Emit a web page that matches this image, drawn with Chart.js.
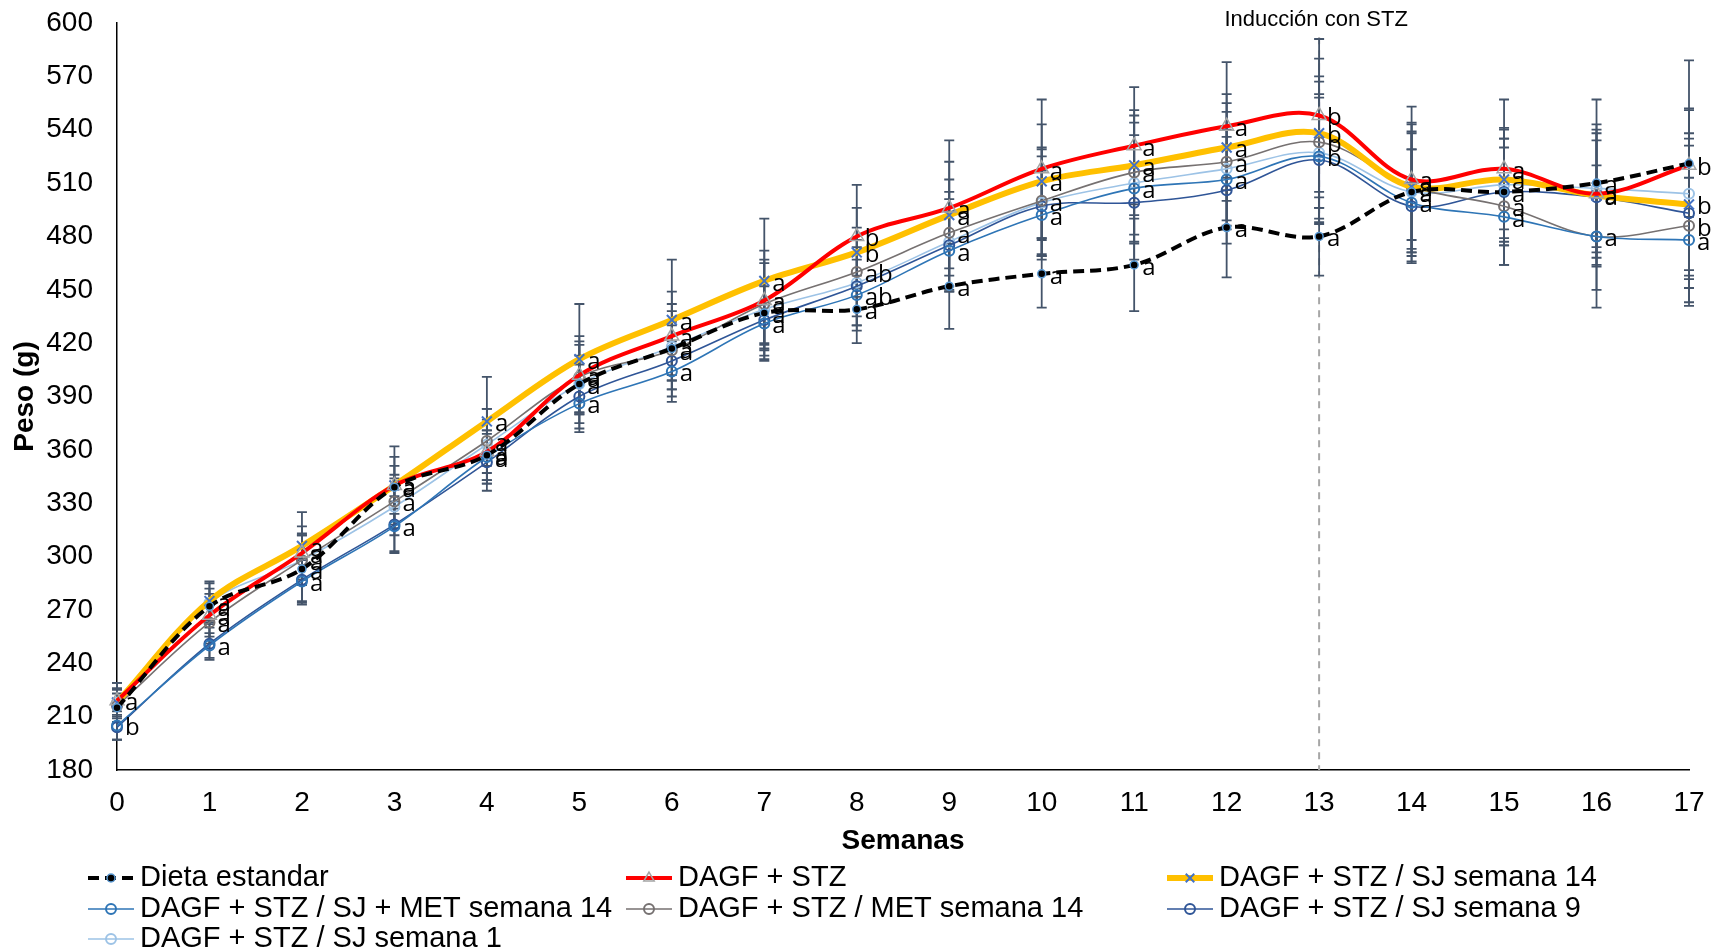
<!DOCTYPE html>
<html>
<head>
<meta charset="utf-8">
<script src="https://cdn.jsdelivr.net/npm/chart.js@4.4.1/dist/chart.umd.min.js"></script>
<style>
  html, body { margin: 0; padding: 0; background: #fff; }
</style>
</head>
<body>
<canvas id="peso-chart" width="1717" height="952"></canvas>
<script>
////// Datos (peso en g por semana)
let semanas = ['0','1','2','3','4','5','6','7','8','9','10','11','12','13','14','15','16','17'];
let semanaInduccion = 13;

let dieta   = [215, 272, 293, 339, 357, 397, 417, 437, 439, 452, 459, 464, 485, 480, 505, 505, 510, 521];
let stz     = [219, 267, 302, 340, 359, 402, 424, 444, 480, 496, 518, 531, 542, 548, 512, 518, 504, 520];
let sj14    = [218, 275, 306, 340, 376, 411, 433, 455, 471, 492, 511, 520, 530, 538, 508, 512, 503, 498];
let sjMet14 = [205, 250, 286, 317, 356, 386, 404, 431, 447, 472, 492, 507, 512, 525, 499, 491, 480, 478];
let met14   = [216, 263, 298, 331, 365, 401, 416, 442, 460, 482, 500, 516, 522, 533, 508, 497, 480, 486];
let sj9     = [204, 251, 287, 318, 353, 390, 410, 433, 452, 475, 497, 499, 506, 523, 497, 505, 502, 493];
let sj1     = [218, 274, 298, 328, 363, 397, 418, 439, 454, 477, 499, 510, 518, 527, 505, 509, 507, 504];

// desviaciones (barras de error)
let deDieta   = [8, 10, 20, 12, 14, 16, 15, 18, 19, 24, 19, 26, 28, 22, 39, 30, 47, 30];
let deStz     = [10, 12, 15, 16, 18, 22, 25, 28, 29, 38, 39, 33, 36, 43, 41, 39, 30, 59];
let deSj14    = [11, 11, 19, 22, 25, 31, 34, 35, 25, 30, 32, 28, 30, 42, 30, 28, 35, 40];
let deSjMet14 = [8, 7, 12, 14, 15, 16, 17, 21, 20, 22, 25, 30, 28, 35, 30, 27, 30, 35];
let deMet14   = [9, 12, 14, 15, 18, 20, 22, 25, 25, 30, 30, 35, 33, 37, 35, 33, 40, 45];
let deSj9     = [7, 9, 12, 16, 16, 18, 20, 22, 22, 26, 28, 32, 30, 35, 32, 30, 38, 42];
let deSj1     = [8, 11, 14, 16, 20, 22, 24, 26, 24, 28, 30, 34, 32, 40, 34, 32, 36, 48];

// letras de significancia
let letrasDieta   = ['', 'a','a','a','a','a','a','a','a','a','a','a','a','a','a','a','a',''];
let letrasStz     = ['a','a','a','a','a','a','a','a','b','a','a','a','a','b','a','a','a','b'];
let letrasSj14    = ['', 'a','a','a','a','a','a','a','b','a','a','a','a','b','a','a','a','b'];
let letrasSjMet14 = ['b','a','a','a','a','a','a','a','ab','a','a','a','a','b','a','a','','a'];
let letrasMet14   = ['', 'a','a','a','a','a','a','a','ab','a','a','a','a','b','a','a','a','b'];

const fuente = '"Liberation Sans", Arial, sans-serif';
Chart.defaults.color = '#000';
Chart.defaults.font.family = fuente;

let datasets = [
    { label: 'Dieta estandar', data: dieta, errores: deDieta, letras: letrasDieta,
      borderColor: '#000000', borderWidth: 4, borderDash: [11, 6],
      pointStyle: 'circle', pointRadius: 4, pointBackgroundColor: '#000000',
      pointBorderColor: '#5B9BD5', pointBorderWidth: 1.5 },
    { label: 'DAGF + STZ', data: stz, errores: deStz, letras: letrasStz,
      borderColor: '#FF0000', borderWidth: 4,
      pointStyle: 'triangle', pointRadius: 8, pointBackgroundColor: 'rgba(255,255,255,0)',
      pointBorderColor: '#A5A5A5', pointBorderWidth: 1.5 },
    { label: 'DAGF + STZ / SJ semana 14', data: sj14, errores: deSj14, letras: letrasSj14,
      borderColor: '#FFC000', borderWidth: 6,
      pointStyle: 'crossRot', pointRadius: 7, pointBorderColor: '#4472C4', pointBorderWidth: 2 },
    { label: 'DAGF + STZ / SJ + MET semana 14', data: sjMet14, errores: deSjMet14, letras: letrasSjMet14,
      borderColor: '#2E75B6', borderWidth: 1.6,
      pointStyle: 'circle', pointRadius: 5, pointBackgroundColor: 'rgba(255,255,255,0)',
      pointBorderColor: '#2E75B6', pointBorderWidth: 2 },
    { label: 'DAGF + STZ / MET semana 14', data: met14, errores: deMet14, letras: letrasMet14,
      borderColor: '#767171', borderWidth: 1.6,
      pointStyle: 'circle', pointRadius: 5, pointBackgroundColor: 'rgba(255,255,255,0)',
      pointBorderColor: '#767171', pointBorderWidth: 2 },
    { label: 'DAGF + STZ / SJ semana 9', data: sj9, errores: deSj9, letras: [],
      borderColor: '#2F5597', borderWidth: 1.6,
      pointStyle: 'circle', pointRadius: 5, pointBackgroundColor: 'rgba(255,255,255,0)',
      pointBorderColor: '#2F5597', pointBorderWidth: 2 },
    { label: 'DAGF + STZ / SJ semana 1', data: sj1, errores: deSj1, letras: [],
      borderColor: '#9DC3E6', borderWidth: 1.6,
      pointStyle: 'circle', pointRadius: 5, pointBackgroundColor: 'rgba(255,255,255,0)',
      pointBorderColor: '#9DC3E6', pointBorderWidth: 2 }
];

// barras de error + linea de induccion
const errorBars = {
    id: 'errorBars',
    beforeDatasetsDraw(chart) {
        let ctx = chart.ctx, xs = chart.scales.x, ys = chart.scales.y;
        ctx.save();
        let xi = xs.getPixelForValue(semanaInduccion);
        ctx.strokeStyle = '#A6A6A6';
        ctx.lineWidth = 2;
        ctx.setLineDash([7, 6]);
        ctx.beginPath();
        ctx.moveTo(xi, ys.getPixelForValue(592));
        ctx.lineTo(xi, ys.bottom);
        ctx.stroke();
        ctx.setLineDash([]);

        ctx.strokeStyle = '#44546A';
        ctx.lineWidth = 1.8;
        chart.data.datasets.forEach(function (ds) {
            ds.errores.forEach(function (e, i) {
                let x = xs.getPixelForValue(i);
                let y1 = ys.getPixelForValue(ds.data[i] + e);
                let y2 = ys.getPixelForValue(ds.data[i] - e);
                ctx.beginPath();
                ctx.moveTo(x, y1); ctx.lineTo(x, y2);
                ctx.moveTo(x - 5, y1); ctx.lineTo(x + 5, y1);
                ctx.moveTo(x - 5, y2); ctx.lineTo(x + 5, y2);
                ctx.stroke();
            });
        });
        ctx.restore();
    },
    afterDatasetsDraw(chart) {
        let ctx = chart.ctx, xs = chart.scales.x, ys = chart.scales.y;
        ctx.save();
        ctx.fillStyle = '#000';
        ctx.font = '24px "Open Sans", sans-serif';
        ctx.textAlign = 'left';
        ctx.textBaseline = 'middle';
        chart.data.datasets.forEach(function (ds) {
            ds.letras.forEach(function (l, i) {
                if (!l) return;
                ctx.fillText(l, xs.getPixelForValue(i) + 8, ys.getPixelForValue(ds.data[i]) + 3);
            });
        });
        // texto de induccion
        ctx.font = '22px ' + fuente;
        ctx.textAlign = 'center';
        ctx.fillText('Inducción con STZ', xs.getPixelForValue(semanaInduccion) - 3, 20);
        ctx.restore();
    }
};

// leyenda en tres columnas
const leyenda = {
    id: 'leyenda',
    afterDraw(chart) {
        let ctx = chart.ctx;
        let cols = [88, 626, 1167];
        let filas = [878, 909, 939];
        ctx.save();
        chart.data.datasets.forEach(function (ds, i) {
            let x = cols[i % 3], y = filas[Math.floor(i / 3)];
            ctx.strokeStyle = ds.borderColor;
            ctx.lineWidth = ds.borderWidth;
            ctx.setLineDash(ds.borderDash || []);
            ctx.beginPath();
            ctx.moveTo(x, y); ctx.lineTo(x + 46, y);
            ctx.stroke();
            ctx.setLineDash([]);
            ctx.strokeStyle = ds.pointBorderColor;
            ctx.fillStyle = ds.pointBackgroundColor || 'rgba(0,0,0,0)';
            ctx.lineWidth = ds.pointBorderWidth;
            Chart.helpers.drawPoint(ctx, {
                pointStyle: ds.pointStyle, radius: Math.min(ds.pointRadius, 6),
                rotation: 0, borderWidth: ds.pointBorderWidth
            }, x + 23, y);
            ctx.fillStyle = '#000';
            ctx.font = '29px ' + fuente;
            ctx.textAlign = 'left';
            ctx.textBaseline = 'middle';
            ctx.fillText(ds.label, x + 52, y);
        });
        ctx.restore();
    }
};

let peso_canvas = document.getElementById('peso-chart').getContext('2d');
let peso_chart = new Chart(peso_canvas, {
    type: 'line',
    data: { labels: semanas, datasets: datasets },
    options: {
        responsive: false,
        animation: false,
        devicePixelRatio: 1,
        layout: { padding: { top: 23, right: 28, bottom: 94, left: 0 } },
        elements: { line: { tension: 0.35, fill: false } },
        plugins: { legend: { display: false }, tooltip: { enabled: false } },
        scales: {
            x: {
                grid: { display: false, drawTicks: false },
                border: { color: '#000', width: 1.5 },
                ticks: { font: { size: 28 }, padding: 16, maxRotation: 0, autoSkip: false },
                title: { display: true, text: 'Semanas', font: { size: 28, weight: 'bold' }, padding: 0 },
                afterFit: function (s) { s.height = 88; s.paddingLeft = 0; s.paddingRight = 0; }
            },
            y: {
                min: 180, max: 600,
                grid: { display: false, drawTicks: false },
                border: { color: '#000', width: 1.5 },
                ticks: { stepSize: 30, font: { size: 28 }, padding: 24 },
                title: { display: true, text: 'Peso (g)', font: { size: 28, weight: 'bold' }, padding: { top: 8, bottom: 0 } },
                afterFit: function (s) { s.width = 117; s.paddingTop = 0; s.paddingBottom = 0; }
            }
        }
    },
    plugins: [errorBars, leyenda]
});
</script>
</body>
</html>
